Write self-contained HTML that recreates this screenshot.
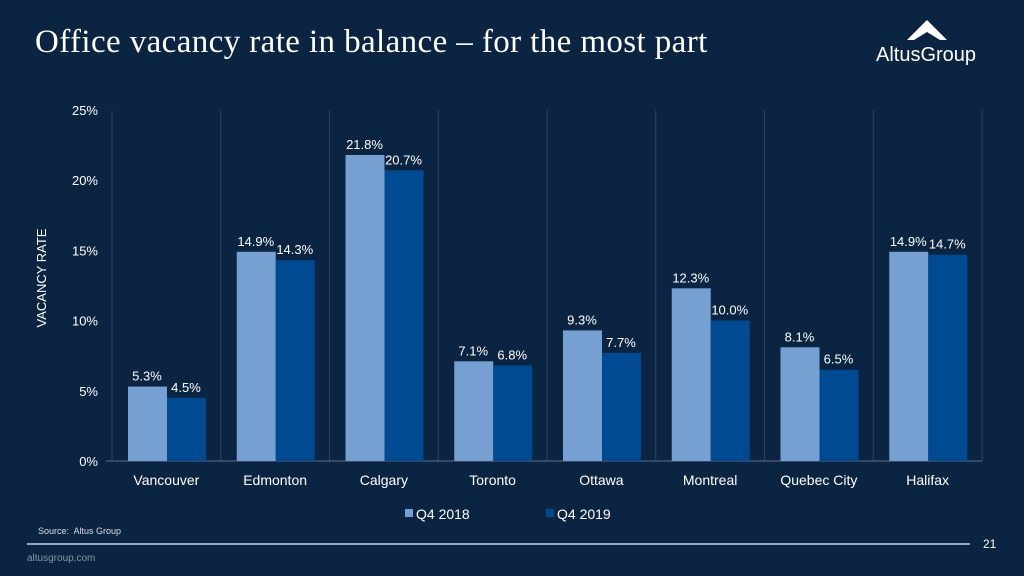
<!DOCTYPE html>
<html><head><meta charset="utf-8"><style>
body{margin:0;width:1024px;height:576px;background:#0b2442;overflow:hidden;font-family:"Liberation Sans",sans-serif;color:#fff;position:relative}
.t{position:absolute}
</style></head><body>
<div class="t" style="left:35px;top:24px;font-family:'Liberation Serif',serif;font-size:33px;letter-spacing:0.4px;color:#fff">Office vacancy rate in balance – for the most part</div>
<div class="t" style="left:876px;top:18px;width:110px;height:50px">
<svg width="110" height="26"><polygon points="51,2 31,22 71,22" fill="#fff"/><polygon points="38,22 51,14 64,22" fill="#0b2442"/></svg>
<div style="position:absolute;left:0;top:26px;font-size:20px;color:#fff">AltusGroup</div></div>
<svg class="t" style="left:0;top:0" width="1024" height="576" id="chart"></svg>
<div class="t" style="left:38px;top:526px;font-size:9px;color:#dde">Source:&nbsp; Altus Group</div>
<div class="t" style="left:27px;top:543px;width:943px;height:2px;background:#8fa6c0"></div>
<div class="t" style="left:983px;top:537px;font-size:12px">21</div>
<div class="t" style="left:27px;top:553px;font-size:10px;color:#8895a8">altusgroup.com</div>
<script>
const categories=["Vancouver","Edmonton","Calgary","Toronto","Ottawa","Montreal","Quebec City","Halifax"];
const q2018=[5.3,14.9,21.8,7.1,9.3,12.3,8.1,14.9];
const q2019=[4.5,14.3,20.7,6.8,7.7,10.0,6.5,14.7];
const yTicks=[0,5,10,15,20,25];
const svg=document.getElementById('chart');const NS='http://www.w3.org/2000/svg';
const x0=112,x1=982,y0=461,y1=110,ymax=25;
const cw=(x1-x0)/categories.length;
const Y=v=>y0-(v/ymax)*(y0-y1);
function mk(t,a,txt){const e=document.createElementNS(NS,t);for(const k in a)e.setAttribute(k,a[k]);if(txt!=null)e.textContent=txt;svg.appendChild(e);return e;}
for(let i=0;i<=categories.length;i++){const l=mk('line',{x1:x0+i*cw,x2:x0+i*cw,y1:y1,y2:y0,stroke:'#2c4360','stroke-width':1});

}
const ax=mk('line',{x1:x0-6,x2:x1,y1:y0,y2:y0,stroke:'#5a6f88'});


yTicks.forEach(v=>{const t=mk('text',{x:98,y:Y(v)+5,'text-anchor':'end','font-size':13,fill:'#fff','font-family':'Liberation Sans'},v+'%');

});
const yt=mk('text',{x:46,y:278,'text-anchor':'middle','font-size':13,fill:'#fff',transform:'rotate(-90 46 278)'},'VACANCY RATE');


categories.forEach((c,i)=>{const bx=x0+i*cw+16;
const b1=mk('rect',{x:bx,y:Y(q2018[i]),width:39,height:y0-Y(q2018[i]),fill:'#769fd2'});


const b2=mk('rect',{x:bx+39,y:Y(q2019[i]),width:39,height:y0-Y(q2019[i]),fill:'#004a91'});


const l1=mk('text',{x:bx+19,y:Y(q2018[i])-6,'text-anchor':'middle','font-size':13,fill:'#fff'},q2018[i].toFixed(1)+'%');


const l2=mk('text',{x:bx+58,y:Y(q2019[i])-6,'text-anchor':'middle','font-size':13,fill:'#fff'},q2019[i].toFixed(1)+'%');


const cl=mk('text',{x:x0+i*cw+cw/2,y:485,'text-anchor':'middle','font-size':14,fill:'#fff'},c);

});
[["Q4 2018","#769fd2",405],["Q4 2019","#004a91",546]].forEach(([n,col,lx])=>{
const r=mk('rect',{x:lx,y:509,width:8,height:8,fill:col});


const t=mk('text',{x:lx+11,y:519,'font-size':14,fill:'#fff'},n);

});
</script>
</body></html>
